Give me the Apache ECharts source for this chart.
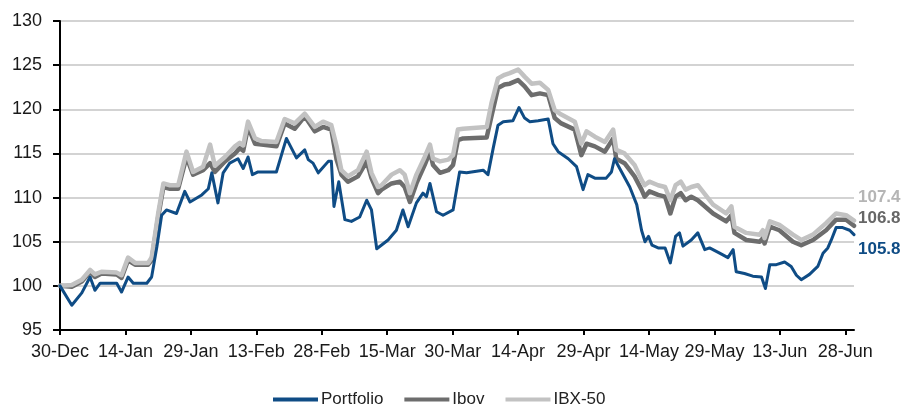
<!DOCTYPE html>
<html>
<head>
<meta charset="utf-8">
<script src="https://cdn.jsdelivr.net/npm/echarts@6/dist/echarts.min.js"></script>
<style>
  html, body { margin: 0; padding: 0; background: #ffffff; }
  #chart { width: 904px; height: 409px; }
</style>
</head>
<body>
<div id="chart"></div>
<script>
// Axis: days counted from 30-Dec, a labelled tick every 15 days
const tickLabels = ['30-Dec', '14-Jan', '29-Jan', '13-Feb', '28-Feb', '15-Mar', '30-Mar',
  '14-Apr', '29-Apr', '14-May', '29-May', '13-Jun', '28-Jun'];
const tickStep = 15;
const lastDay = 182;

// Portfolio (index, start = 100)
const portfolioDays = [0, 2.7, 5.0, 6.9, 8.0, 9.2, 13.0, 14.1, 15.6, 16.8, 19.9, 21.0, 22.2, 23.3, 24.4,
  26.7, 28.6, 29.8, 32.5, 34.0, 34.8, 36.2, 37.4, 38.9, 40.8, 42.0, 43.1, 44.1, 45.4, 49.6, 51.9,
  54.2, 56.1, 56.9, 58.0, 59.2, 61.5, 62.2, 62.8, 63.9, 65.3, 66.8, 68.7, 70.3, 71.4, 72.6, 75.2,
  77.1, 78.6, 79.8, 81.7, 83.2, 84.0, 84.8, 86.3, 87.8, 90.1, 91.6, 93.2, 97.0, 98.1, 99.3, 100.4,
  101.6, 103.8, 105.2, 106.5, 107.7, 109.6, 111.9, 113.0, 114.2, 116.5, 118.4, 119.9, 121.0, 122.6,
  125.2, 126.4, 127.1, 128.3, 130.6, 132.2, 133.3, 134.1, 134.9, 135.7, 137.1, 138.7, 139.9, 141.1,
  142.0, 142.8, 144.7, 146.2, 147.8, 148.9, 151.2, 153.1, 154.3, 155.0, 156.9, 158.8, 160.8, 161.7,
  162.7, 164.2, 166.1, 167.6, 168.8, 169.9, 171.8, 173.7, 174.9, 176.0, 176.8, 177.9, 179.4, 181.0, 182];
const portfolioValues = [100, 97.8, 99.2, 101.0, 99.5, 100.3, 100.3, 99.3, 101.0, 100.3, 100.3, 101.0, 104.4, 108.0, 108.6,
  108.2, 110.7, 109.5, 110.3, 111.0, 112.8, 109.4, 112.8, 113.9, 114.4, 113.3, 114.6, 112.6, 112.9, 112.9, 116.7,
  114.5, 115.4, 114.3, 113.9, 112.8, 114.1, 114.1, 109.0, 111.8, 107.5, 107.3, 107.8, 109.7, 108.6, 104.2, 105.2,
  106.3, 108.6, 106.7, 109.4, 110.5, 110.1, 111.6, 108.4, 108.0, 108.6, 112.9, 112.8, 113.1, 112.6, 115.6, 118.2,
  118.6, 118.7, 120.2, 119.0, 118.6, 118.7, 118.9, 116.1, 115.2, 114.4, 113.5, 110.9, 112.6, 112.2,
  112.2, 112.9, 114.4, 113.3, 111.2, 109.2, 106.3, 105.0, 105.6, 104.6, 104.3, 104.3, 102.6, 105.6,
  106.0, 104.5, 105.2, 106.0, 104.1, 104.3, 103.7, 103.2, 104.1, 101.6, 101.4, 101.1, 101.0, 99.7,
  102.4, 102.4, 102.7, 102.2, 101.2, 100.7, 101.3, 102.2, 103.7, 104.3, 105.2, 106.6, 106.6, 106.3, 105.8];

// Ibov
const ibovDays = [0, 2.7, 5.0, 6.9, 8.0, 9.5, 13.0, 14.1, 15.6, 17.2, 20.2, 21.0, 22.5, 23.7, 25.2,
  27.1, 29.0, 30.5, 32.8, 34.4, 35.5, 37.8, 40.1, 41.2, 42.0, 43.1, 44.7, 46.2, 49.6, 51.5, 53.8,
  56.1, 58.4, 60.3, 62.2, 63.4, 64.5, 66.0, 68.3, 70.3, 71.4, 72.9, 73.7, 76.0, 77.9, 79.0, 80.2,
  81.7, 83.6, 84.8, 85.5, 87.1, 89.0, 90.1, 91.2, 92.4, 97.8, 98.9, 100.4, 101.9, 103.1, 105.0,
  106.5, 108.1, 110.0, 111.9, 113.4, 114.9, 118.0, 119.5, 120.7, 122.6, 124.9, 126.8, 127.5, 129.4,
  131.7, 133.3, 134.0, 135.1, 137.1, 138.7, 139.9, 141.1, 142.3, 143.4, 144.7, 146.2, 149.7, 152.7,
  153.9, 154.6, 157.3, 160.4, 161.1, 161.5, 162.7, 164.9, 168.0, 169.9, 172.6, 175.6, 177.9, 180.2, 182];
const ibovValues = [100, 99.9, 100.5, 101.6, 101.0, 101.4, 101.3, 100.9, 102.9, 102.4, 102.4, 102.9, 107.8, 111.2, 111.0,
  111.0, 114.6, 112.6, 113.1, 113.9, 112.9, 114.1, 115.0, 115.6, 115.3, 118.0, 116.1, 116.0, 115.8, 118.4, 117.8,
  119.2, 117.5, 118.0, 117.7, 114.3, 112.6, 111.8, 112.4, 114.1, 112.2, 110.5, 110.9, 111.6, 111.8, 111.2, 109.5,
  111.6, 113.7, 115.2, 113.7, 112.8, 113.1, 113.7, 116.5, 116.7, 116.8, 119.2, 122.4, 122.8, 122.9, 123.3,
  122.6, 121.6, 121.8, 121.6, 119.0, 118.4, 117.7, 114.8, 116.1, 115.8, 115.2, 116.7, 114.4, 113.9,
  112.4, 110.9, 110.1, 110.7, 110.3, 110.1, 108.2, 110.1, 110.5, 109.7, 110.1, 109.7, 108.2, 107.3,
  108.0, 106.0, 105.2, 105.0, 105.4, 104.8, 106.7, 106.3, 105.0, 104.6, 105.2, 106.3, 107.5, 107.5, 106.8];

// IBX-50
const ibxDays = ibovDays;
const ibxValues = [100, 100.1, 100.7, 101.8, 101.3, 101.6, 101.5, 101.2, 103.2, 102.6, 102.6, 103.2, 108.2, 111.6, 111.4,
  111.4, 115.2, 112.9, 113.5, 116.0, 113.6, 114.6, 115.8, 116.2, 115.9, 118.6, 116.7, 116.4, 116.3, 118.9, 118.4,
  119.5, 118.0, 118.6, 118.2, 115.8, 113.1, 112.4, 113.1, 115.2, 112.8, 111.2, 111.4, 112.6, 113.1, 112.6, 110.5,
  112.6, 114.6, 116.0, 114.4, 114.1, 114.3, 114.8, 117.7, 117.8, 118.0, 120.7, 123.5, 123.9, 124.1, 124.5,
  123.7, 122.9, 123.0, 122.2, 119.9, 119.4, 118.6, 116.1, 117.5, 116.9, 116.3, 117.7, 115.4, 115.0,
  113.7, 112.0, 111.4, 111.8, 111.4, 111.2, 109.7, 111.4, 111.8, 110.9, 111.2, 111.4, 109.2, 108.2,
  109.0, 106.7, 106.0, 105.8, 106.3, 105.4, 107.3, 106.9, 105.8, 105.2, 105.8, 107.1, 108.2, 108.0, 107.4];

const seriesNames = ['Portfolio', 'Ibov', 'IBX-50'];
const seriesColors = { 'Portfolio': '#0f4c85', 'Ibov': '#6d6d6d', 'IBX-50': '#c2c2c2' };
const labelColors = { 'Portfolio': '#0f4c85', 'Ibov': '#666666', 'IBX-50': '#b5b5b5' };

function pairs(days, values) {
  return days.map((d, i) => [d, values[i]]);
}

const tickValues = tickLabels.map((_, i) => i * tickStep);
const fontFamily = '"Liberation Sans", Arial, sans-serif';

function lineSeries(name, days, values, width, z, labelDy) {
  return {
    name: name,
    type: 'line',
    data: pairs(days, values),
    showSymbol: false,
    symbol: 'none',
    z: z,
    lineStyle: { color: seriesColors[name], width: width, join: 'round', cap: 'round' },
    itemStyle: { color: seriesColors[name] },
    endLabel: {
      show: true,
      formatter: p => p.value[1].toFixed(1),
      color: labelColors[name],
      fontFamily: fontFamily,
      fontSize: 17,
      fontWeight: 'bold',
      distance: 4,
      offset: [0, labelDy]
    },
    emphasis: { disabled: true }
  };
}

const chart = echarts.init(document.getElementById('chart'), null, { renderer: 'canvas' });
chart.setOption({
  animation: false,
  backgroundColor: '#ffffff',
  grid: { left: 60, right: 50, top: 21, bottom: 79, containLabel: false },
  legend: {
    data: seriesNames,
    left: 273,
    top: 391,
    padding: 0,
    itemGap: 21,
    itemWidth: 45,
    itemHeight: 4,
    icon: 'rect',
    textStyle: { fontFamily: fontFamily, fontSize: 17, color: '#222222', padding: [0, 0, 0, -2] }
  },
  xAxis: {
    type: 'value',
    min: 0,
    max: lastDay,
    interval: tickStep,
    axisLine: { show: true, onZero: false, lineStyle: { color: '#000000', width: 2 } },
    axisTick: { show: true, length: 5, lineStyle: { color: '#000000', width: 2 }, customValues: tickValues },
    axisLabel: {
      customValues: tickValues,
      formatter: v => tickLabels[Math.round(v / tickStep)] || '',
      fontFamily: fontFamily, fontSize: 18, color: '#1a1a1a', margin: 13
    },
    splitLine: { show: false }
  },
  yAxis: {
    type: 'value',
    min: 95,
    max: 130,
    interval: 5,
    axisLine: { show: true, lineStyle: { color: '#000000', width: 2 } },
    axisTick: { show: true, length: 7, lineStyle: { color: '#000000', width: 2 } },
    axisLabel: { fontFamily: fontFamily, fontSize: 18, color: '#1a1a1a', margin: 18 },
    splitLine: { show: true, lineStyle: { color: '#c4c4c4', width: 1.5 } }
  },
  series: [
    lineSeries('Ibov', ibovDays, ibovValues, 4.5, 2, -8),
    lineSeries('IBX-50', ibxDays, ibxValues, 4.5, 3, -23),
    lineSeries('Portfolio', portfolioDays, portfolioValues, 3, 4, 15)
  ]
});
</script>
</body>
</html>
